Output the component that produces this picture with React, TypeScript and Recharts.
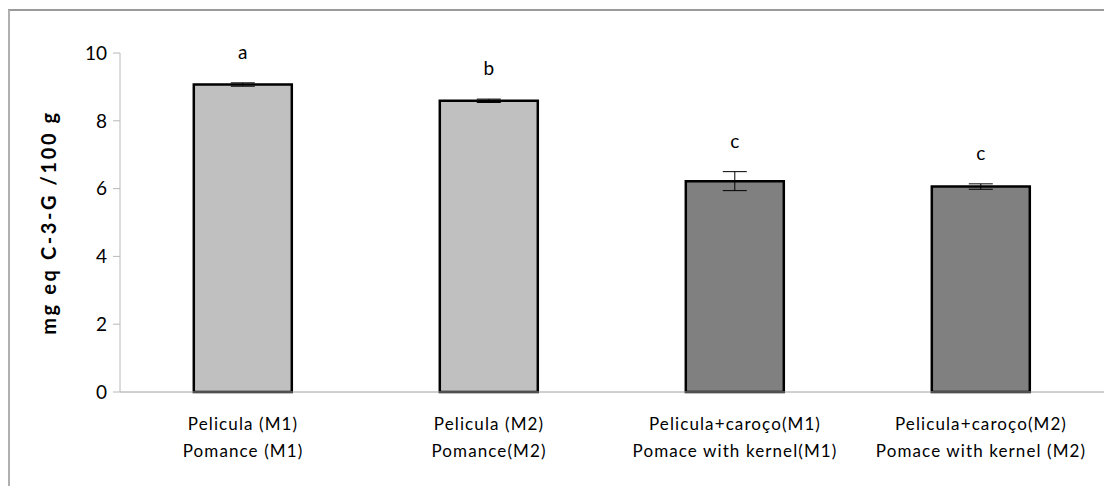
import React from "react";
import { BarChart, Bar, XAxis, YAxis, ErrorBar, Cell, LabelList } from "recharts";

const categories = ["Pelicula (M1)|Pomance (M1)", "Pelicula (M2)|Pomance(M2)", "Pelicula+caroço(M1)|Pomace with kernel(M1)", "Pelicula+caroço(M2)|Pomace with kernel (M2)"];
const values = [9.07, 8.59, 6.22, 6.06];
const errors = [0.05, 0.05, 0.28, 0.08];
const letters = ["a", "b", "c", "c"];
const fills = ["#c0c0c0", "#c0c0c0", "#808080", "#808080"];
const yTicks = [0, 2, 4, 6, 8, 10];
const boundaryTicks = [0, 1, 2, 3, 4];

const data = categories.map((c, i) => ({ name: c, value: values[i], err: errors[i], letter: letters[i] }));

const FONT = "Lato, 'Open Sans', sans-serif";

const CatTick = (props: any) => {
  const { x, y, payload } = props;
  const lines = String(payload.value).split("|");
  return (
    <g>
      {lines.map((l, i) => (
        <text key={i} x={x} y={y + 30 + i * 27} textAnchor="middle" fontFamily={FONT} fontSize={17} fill="#000" letterSpacing={1.1}>
          {l}
        </text>
      ))}
    </g>
  );
};

const LetterLabel = (props: any) => {
  const { x, y, width, height, index } = props;
  const v = values[index];
  const e = errors[index];
  const pxPerUnit = height / v;
  const top = y - e * pxPerUnit;
  return (
    <text x={x + width / 2} y={top - 24} textAnchor="middle" fontFamily={FONT} fontSize={19} fill="#000">
      {letters[index]}
    </text>
  );
};

const YLabel = (props: any) => {
  const { viewBox } = props;
  const cy = viewBox.y + viewBox.height / 2;
  const cx = 40;
  return (
    <text x={cx} y={cy} transform={`rotate(-90, ${cx}, ${cy})`} textAnchor="middle" dominantBaseline="central" fontFamily={FONT} fontSize={20} fontWeight={700} fill="#000" letterSpacing={2.6}>
      mg  eq C-3-G /100 g
    </text>
  );
};

export default function App() {
  return (
    <div style={{ position: "relative", width: 1104, height: 478 }}>
      <div style={{ position: "absolute", left: 0, top: 1, width: 1104, height: 2, background: "#9a9a9a" }} />
      <div style={{ position: "absolute", left: 0, top: 2, width: 2, height: 476, background: "#b0b0b0" }} />
      <BarChart width={1104} height={478} data={data} margin={{ top: 45, right: 8, bottom: 0, left: 0 }} barCategoryGap="30%">
        <XAxis xAxisId="cat" dataKey="name" tick={<CatTick />} tickLine={false} axisLine={{ stroke: "#a0a0a0", strokeWidth: 1 }} interval={0} height={94} />
        <XAxis xAxisId="bnd" type="number" domain={[0, 4]} ticks={boundaryTicks} tick={false} tickSize={6} tickLine={{ stroke: "#a0a0a0" }} axisLine={false} height={0} />
        <YAxis domain={[0, 10]} ticks={yTicks} width={112} tickSize={7} tickMargin={6} tick={{ fontFamily: FONT, fontSize: 19, fill: "#000" }} axisLine={{ stroke: "#b8b8b8" }} tickLine={{ stroke: "#b8b8b8" }}
          label={<YLabel />} />
        <Bar xAxisId="cat" dataKey="value" stroke="#000" strokeWidth={2.5} isAnimationActive={false}>
          {data.map((d, i) => (
            <Cell key={i} fill={fills[i]} />
          ))}
          <ErrorBar dataKey="err" width={12} stroke="#000" strokeWidth={1} />
          <LabelList dataKey="letter" content={<LetterLabel />} />
        </Bar>
      </BarChart>
    </div>
  );
}
